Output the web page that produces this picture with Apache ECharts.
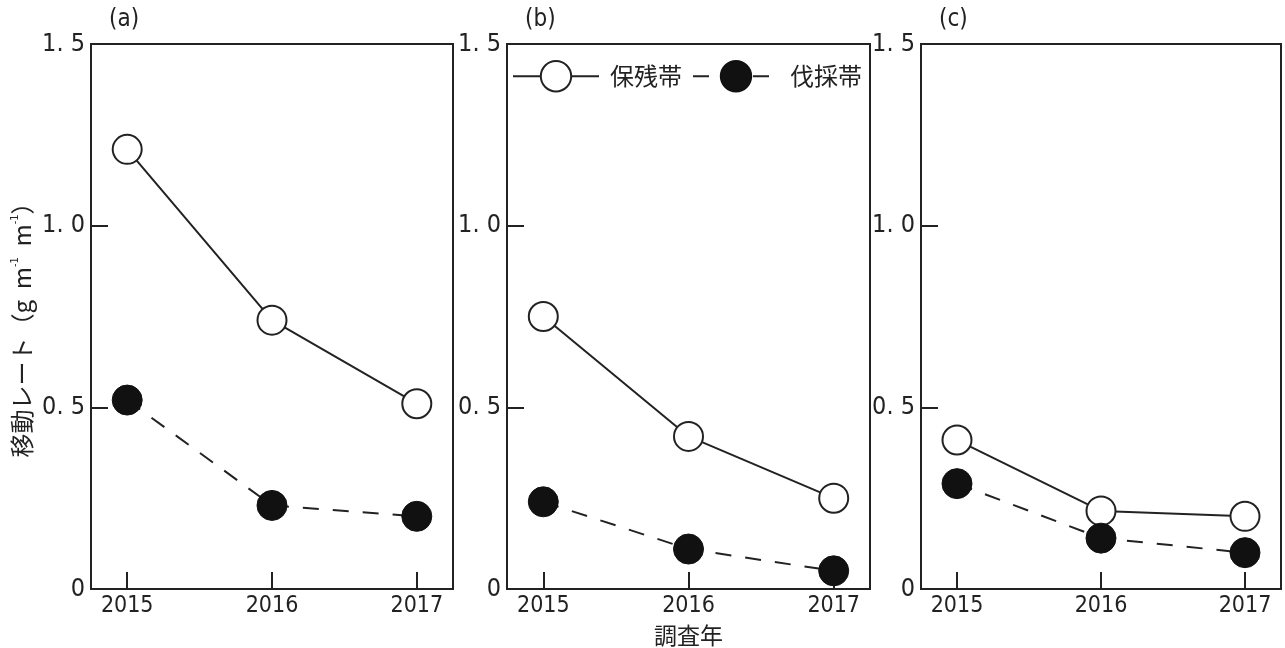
<!DOCTYPE html>
<html>
<head>
<meta charset="utf-8">
<script src="https://cdn.jsdelivr.net/npm/echarts@6/dist/echarts.min.js"></script>
<style>
html,body{margin:0;padding:0;background:#fff;}
#chart{width:1285px;height:648px;}
</style>
</head>
<body>
<div id="chart"></div>
<script>
const years = [2015, 2016, 2017];
const panelLabels = ['(a)', '(b)', '(c)'];
const yTickValues = [0, 0.5, 1.0, 1.5];
const yTickLabels = ['0', '0. 5', '1. 0', '1. 5'];
const retainedA = [1.21, 0.74, 0.51];
const harvestedA = [0.52, 0.23, 0.20];
const retainedB = [0.75, 0.42, 0.25];
const harvestedB = [0.24, 0.11, 0.05];
const retainedC = [0.41, 0.215, 0.20];
const harvestedC = [0.29, 0.14, 0.10];
const seriesNames = ['保残帯', '伐採帯'];

const retainedAll = [retainedA, retainedB, retainedC];
const harvestedAll = [harvestedA, harvestedB, harvestedC];

const INK = '#222';
const numFont = '"Liberation Sans Narrow", "DejaVu Sans Condensed", "Liberation Sans", sans-serif';
const cjkFont = '"Noto Sans CJK JP", "Noto Sans", sans-serif';

const grids = [
  {left: 91, top: 44, width: 362, height: 545},
  {left: 507, top: 44, width: 363, height: 545},
  {left: 921, top: 44, width: 360, height: 545}
].map(g => Object.assign(g, {show: true, borderColor: INK, borderWidth: 2,
  backgroundColor: 'transparent', containLabel: false, outerBoundsMode: 'none'}));

const titleLeft = [104, 520, 934];

const xAxes = grids.map((g, i) => ({
  type: 'value', gridIndex: i, min: 2014.75, max: 2017.25,
  splitLine: {show: false},
  axisLine: {show: true, lineStyle: {color: INK, width: 2}},
  axisTick: {show: true, inside: true, length: 17, customValues: years, lineStyle: {color: INK, width: 2}},
  axisLabel: {show: true, customValues: years, formatter: v => String(v), color: INK,
    fontFamily: numFont, fontSize: 23, margin: 6},
  name: i === 1 ? '調査年' : '',
  nameLocation: 'middle', nameGap: 35,
  nameTextStyle: {fontFamily: cjkFont, fontSize: 23, color: INK}
}));

const yAxes = grids.map((g, i) => ({
  type: 'value', gridIndex: i, min: 0, max: 1.5, interval: 0.5,
  splitLine: {show: false},
  axisLine: {show: true, lineStyle: {color: INK, width: 2}},
  axisTick: {show: true, inside: true, length: 17, lineStyle: {color: INK, width: 2}},
  axisLabel: {show: true, color: INK, fontFamily: numFont, fontSize: 25, margin: 6,
    formatter: v => { const k = yTickValues.findIndex(t => Math.abs(t - v) < 1e-9); return k >= 0 ? yTickLabels[k] : ''; }},
  name: i === 0 ? '移動レート（g  m{s|-1}  m{s|-1}）' : '',
  nameLocation: 'middle', nameGap: 57,
  nameTextStyle: {fontFamily: cjkFont, fontSize: 24, color: INK, padding: [0, 15, 0, 0],
    rich: {s: {fontSize: 11, fontFamily: numFont, color: INK, verticalAlign: 'top', lineHeight: 12}}}
}));

const series = [];
for (let i = 0; i < 3; i++) {
  series.push({
    name: seriesNames[0], type: 'line', xAxisIndex: i, yAxisIndex: i,
    data: years.map((y, k) => [y, retainedAll[i][k]]),
    symbol: 'circle', symbolSize: 29,
    lineStyle: {color: INK, width: 2, type: 'solid'},
    itemStyle: {color: '#fff', borderColor: INK, borderWidth: 2},
    z: 2
  });
}
for (let i = 0; i < 3; i++) {
  series.push({
    name: seriesNames[1], type: 'line', xAxisIndex: i, yAxisIndex: i,
    data: years.map((y, k) => [y, harvestedAll[i][k]]),
    symbol: 'circle', symbolSize: 30,
    lineStyle: {color: INK, width: 2, type: [16, 14]},
    itemStyle: {color: '#111', borderColor: '#111', borderWidth: 1},
    z: 3
  });
}

const chart = echarts.init(document.getElementById('chart'), null, {renderer: 'canvas'});
chart.setOption({
  animation: false,
  backgroundColor: '#fff',
  title: panelLabels.map((t, i) => ({
    text: t, left: titleLeft[i], top: 3,
    textStyle: {fontFamily: numFont, fontSize: 24, fontWeight: 'normal', color: INK}
  })),
  legend: {
    left: 507, top: 55, itemGap: 10, itemWidth: 86, itemHeight: 38,
    textStyle: {fontFamily: cjkFont, fontSize: 24, color: INK, padding: [0, 0, 0, 6]},
    data: seriesNames.map(n => ({name: n}))
  },
  grid: grids,
  xAxis: xAxes,
  yAxis: yAxes,
  series: series
});
</script>
</body>
</html>
